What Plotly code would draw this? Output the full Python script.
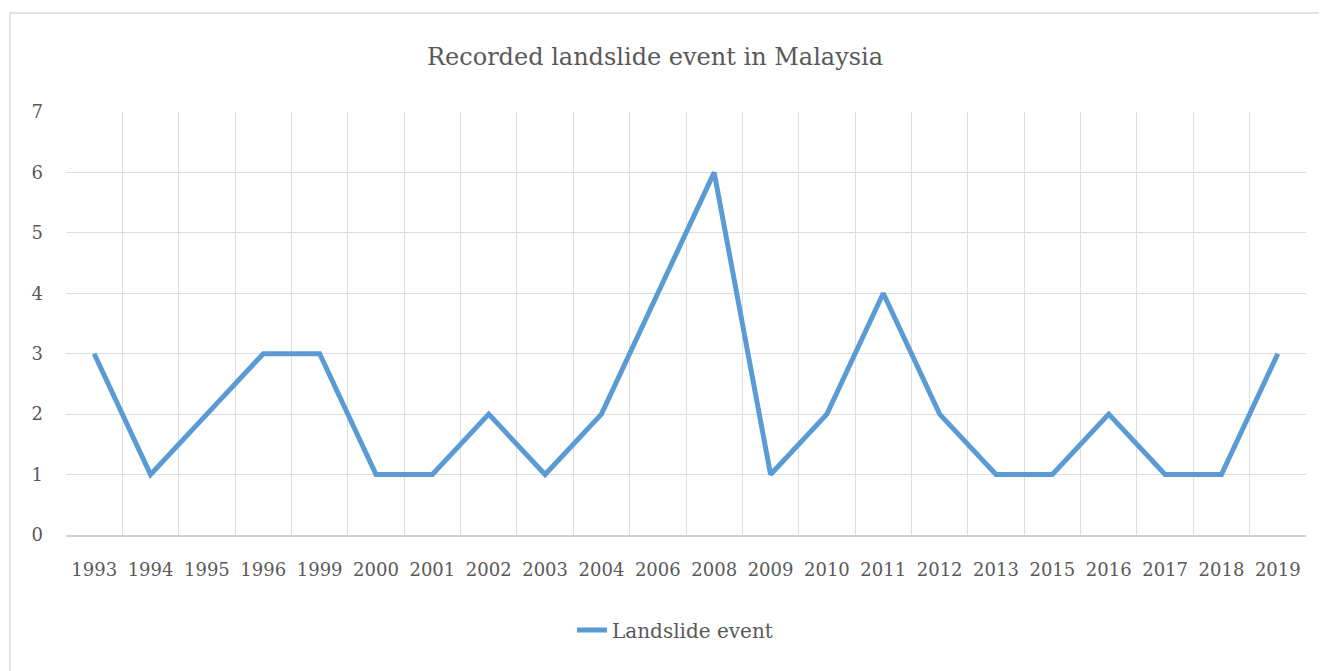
import plotly.graph_objects as go

years = ["1993", "1994", "1995", "1996", "1999", "2000", "2001", "2002", "2003", "2004", "2006",
         "2008", "2009", "2010", "2011", "2012", "2013", "2015", "2016", "2017", "2018", "2019"]
events = [3, 1, 2, 3, 3, 1, 1, 2, 1, 2, 4, 6, 1, 2, 4, 2, 1, 1, 2, 1, 1, 3]
series_name = "Landslide event"
title_text = "Recorded landslide event in Malaysia"

FONT = "DejaVu Serif"
TXT = "#595959"
GRID = "#dedede"

idx = list(range(len(years)))

fig = go.Figure()
fig.add_trace(go.Scatter(
    x=idx, y=events, mode="lines", name=series_name,
    line=dict(color="#5b9bd5", width=5, shape="linear"),
    showlegend=True,
))

OFF = 8  # page body margin
W, H = 1327 - OFF, 671 - OFF
L, T = 66 - OFF, 112 - OFF
R = W - (1306 - OFF)
B = H - (535 - OFF)
pw, ph = W - L - R, H - T - B

def px_x(p):
    return (p - OFF - L) / pw

def px_y(p):
    return (H - B - (p - OFF)) / ph

fig.update_layout(
    width=W, height=H,
    margin=dict(l=L, r=R, t=T, b=B, pad=0),
    paper_bgcolor="white", plot_bgcolor="white",
    font=dict(family=FONT, color=TXT, size=18),
    title=dict(text=title_text, x=(655 - OFF) / W, xanchor="center",
               y=1 - (57 - OFF) / H, yanchor="middle",
               xref="container", yref="container",
               font=dict(family=FONT, size=24, color=TXT)),
    xaxis=dict(
        range=[-0.5, len(years) - 0.5],
        tickmode="array", tickvals=idx, ticktext=years,
        showgrid=False, zeroline=False,
        showline=True, linecolor="#d0d0d0", linewidth=1.5,
        ticks="", ticklabelstandoff=18,
        tickfont=dict(family=FONT, size=18, color=TXT),
        minor=dict(tickmode="linear", tick0=-0.5, dtick=1, showgrid=True,
                   gridcolor=GRID, gridwidth=1, ticks=""),
        fixedrange=True,
    ),
    yaxis=dict(
        range=[0, 7], dtick=1, tick0=0,
        showgrid=True, gridcolor=GRID, gridwidth=1,
        zeroline=False, showline=False, ticks="",
        ticklabelstandoff=22,
        tickfont=dict(family=FONT, size=18, color=TXT),
        fixedrange=True,
    ),
    legend=dict(orientation="h", x=px_x(572), xanchor="left", y=px_y(630), yanchor="middle",
                font=dict(family=FONT, size=20, color=TXT), bgcolor="rgba(0,0,0,0)"),
    shapes=[dict(type="rect", xref="paper", yref="paper",
                 x0=px_x(10), x1=px_x(1324), y0=px_y(690), y1=px_y(13),
                 line=dict(color="#d9d9d9", width=1.5), fillcolor="rgba(0,0,0,0)", layer="below")],
)

fig.write_html("out.html")
